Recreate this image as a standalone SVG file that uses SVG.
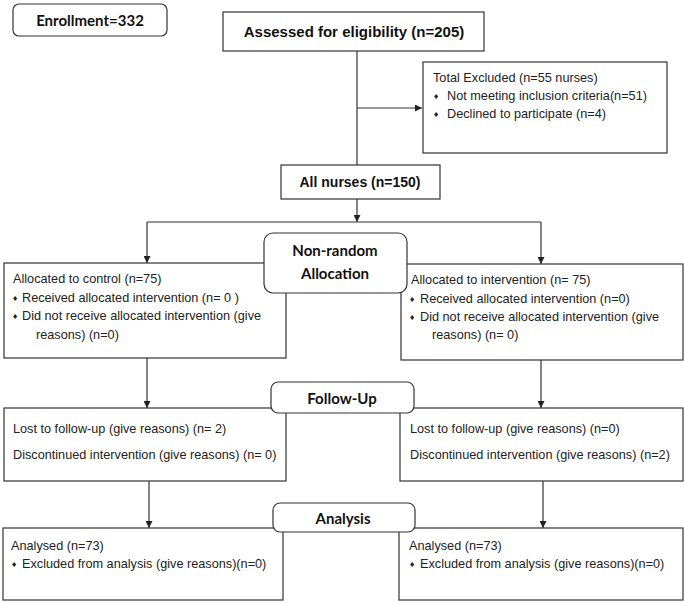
<svg xmlns="http://www.w3.org/2000/svg" width="685" height="602" viewBox="0 0 685 602">
<defs>
<marker id="arr" viewBox="0 0 10 10" refX="10" refY="5" markerWidth="7" markerHeight="7" markerUnits="userSpaceOnUse" orient="auto">
<path d="M0,0 L10,5 L0,10 z" fill="#222"/>
</marker>
<style>
.box{fill:#fff;stroke:#333;stroke-width:1.2}
.rbox{fill:#fff;stroke:#333;stroke-width:1.2}
.ln{fill:none;stroke:#333;stroke-width:1.2}
.t{font-family:"Liberation Sans",Arial,sans-serif;font-size:12.7px;fill:#222}
.b{font-family:"Liberation Sans",Arial,sans-serif;font-weight:bold;fill:#111}
.h{font-family:Lato,"Open Sans",sans-serif;font-weight:bold;font-size:15px;fill:#111;text-anchor:middle}
.bu{font-family:"DejaVu Sans",sans-serif;font-size:7px;fill:#222}
</style>
</defs>
<rect width="685" height="602" fill="#fff"/>

<g id="connectors">
<path class="ln" d="M357,51 V165"/>
<path class="ln" d="M357,108 H422" marker-end="url(#arr)"/>
<path class="ln" d="M357,199 V222" marker-end="url(#arr)"/>
<path class="ln" d="M147,222 H541"/>
<path class="ln" d="M147,222 V263" marker-end="url(#arr)"/>
<path class="ln" d="M541,222 V264" marker-end="url(#arr)"/>
<path class="ln" d="M147,358 V408" marker-end="url(#arr)"/>
<path class="ln" d="M541,360 V408" marker-end="url(#arr)"/>
<path class="ln" d="M149,481 V528" marker-end="url(#arr)"/>
<path class="ln" d="M543,481 V528" marker-end="url(#arr)"/>
</g>

<g id="enrollment">
<rect class="rbox" x="13" y="4" width="154" height="32" rx="6"/>
<text class="h" x="90" y="26">Enrollment=332</text>
</g>

<g id="assessed">
<rect class="box" x="223" y="12" width="261" height="39"/>
<text class="b" x="354" y="37" font-size="15" text-anchor="middle">Assessed for eligibility (n=205)</text>
</g>

<g id="excluded">
<rect class="box" x="423" y="62" width="244" height="91"/>
<text class="t" x="433" y="82">Total Excluded (n=55 nurses)</text>
<text class="bu" x="433" y="99">♦</text>
<text class="t" x="447" y="100">Not meeting inclusion criteria(n=51)</text>
<text class="bu" x="433" y="117">♦</text>
<text class="t" x="447" y="118">Declined to participate (n=4)</text>
</g>

<g id="allnurses">
<rect class="box" x="281" y="165" width="159" height="34"/>
<text class="b" x="360" y="187" font-size="14" text-anchor="middle">All nurses (n=150)</text>
</g>

<g id="control-alloc">
<rect class="box" x="4" y="263" width="282" height="95"/>
<text class="t" x="13" y="283">Allocated to control (n=75)</text>
<text class="bu" x="12" y="301">♦</text>
<text class="t" x="22" y="302">Received allocated intervention (n= 0 )</text>
<text class="bu" x="12" y="319">♦</text>
<text class="t" x="22" y="320">Did not receive allocated intervention (give</text>
<text class="t" x="36" y="339">reasons) (n=0)</text>
</g>

<g id="intervention-alloc">
<rect class="box" x="401" y="264" width="282" height="96"/>
<text class="t" x="411" y="284">Allocated to intervention (n= 75)</text>
<text class="bu" x="409" y="302">♦</text>
<text class="t" x="420" y="303">Received allocated intervention (n=0)</text>
<text class="bu" x="409" y="320">♦</text>
<text class="t" x="420" y="321">Did not receive allocated intervention (give</text>
<text class="t" x="432" y="339">reasons) (n= 0)</text>
</g>

<g id="nonrandom">
<rect class="rbox" x="264" y="233" width="143" height="60" rx="9"/>
<text class="h" x="335" y="256">Non-random</text>
<text class="h" x="335" y="279">Allocation</text>
</g>

<g id="control-follow">
<rect class="box" x="4" y="408" width="282" height="73"/>
<text class="t" x="13" y="433">Lost to follow-up (give reasons) (n= 2)</text>
<text class="t" x="13" y="459">Discontinued intervention (give reasons) (n= 0)</text>
</g>

<g id="intervention-follow">
<rect class="box" x="400" y="408" width="283" height="73"/>
<text class="t" x="410" y="433">Lost to follow-up (give reasons) (n=0)</text>
<text class="t" x="410" y="459">Discontinued intervention (give reasons) (n=2)</text>
</g>

<g id="followup">
<rect class="rbox" x="271" y="382" width="143" height="31" rx="7"/>
<text class="h" x="342" y="404">Follow-Up</text>
</g>

<g id="control-analysis">
<rect class="box" x="3" y="528" width="280" height="72"/>
<text class="t" x="11" y="550">Analysed (n=73)</text>
<text class="bu" x="11" y="567">♦</text>
<text class="t" x="22" y="568">Excluded from analysis (give reasons)(n=0)</text>
</g>

<g id="intervention-analysis">
<rect class="box" x="399" y="528" width="284" height="72"/>
<text class="t" x="409" y="550">Analysed (n=73)</text>
<text class="bu" x="409" y="567">♦</text>
<text class="t" x="420" y="568">Excluded from analysis (give reasons)(n=0)</text>
</g>

<g id="analysis">
<rect class="rbox" x="273" y="503" width="142" height="29" rx="7"/>
<text class="h" x="343" y="524">Analysis</text>
</g>
</svg>
